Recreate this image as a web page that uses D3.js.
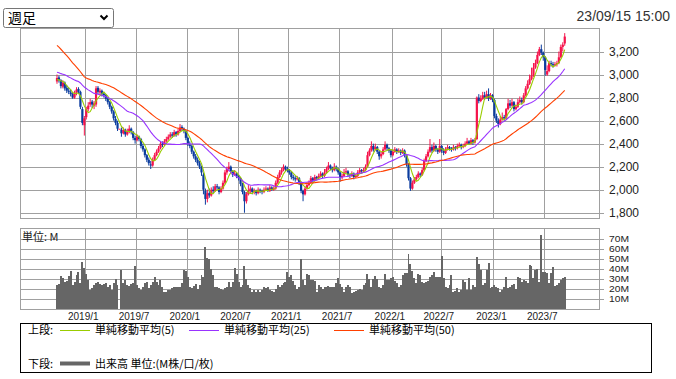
<!DOCTYPE html>
<html><head><meta charset="utf-8">
<script src="https://cdn.jsdelivr.net/npm/d3@7"></script>
<style>
body{margin:0;background:#fff;}
svg{display:block;}
</style></head>
<body>
<svg id="c" width="676" height="379"></svg>
<script>
// ---------------- DATA ----------------
const title = "週足";
const timestamp = "23/09/15 15:00";
const firstWeek = "2018-09-21";
const tickLabels = ["2019/1","2019/7","2020/1","2020/7","2021/1","2021/7","2022/1","2022/7","2023/1","2023/7"];
const priceTicks = [1800,2000,2200,2400,2600,2800,3000,3200];
const volTicks = [10,20,30,40,50,60,70];
// weekly closes before the first visible week (needed for the moving averages)
const priorCloses = [3750,3800,3850,3820,3780,3850,3900,3820,3760,3800,3850,3780,3700,3720,
 3200,3100,3050,3120,3080,3150,3070,3100,
 3080,3040,3010,3060,3100,3050,3020,3070,3090,3040,3060,3050,
 3050,3000,3030,3060,3020,3010,3040,3000,3020,
 2990,2970,2960,2950,2940,2960];
// weekly [open, high, low, close]
const ohlc = [
[2940,3000,2920,2970],[2975,2990,2930,2950],[2950,2960,2880,2900],[2895,2950,2880,2930],[2930,2940,2860,2880],
[2885,2910,2840,2860],[2860,2890,2830,2850],[2845,2870,2810,2830],[2830,2850,2790,2800],[2800,2860,2790,2840],
[2840,2890,2820,2870],[2875,2890,2830,2850],[2850,2860,2700,2720],[2700,2720,2560,2580],[2560,2640,2470,2620],
[2630,2720,2610,2700],[2700,2760,2680,2730],[2740,2790,2720,2760],[2765,2780,2710,2740],[2730,2770,2700,2750],
[2740,2900,2720,2880],[2885,2900,2830,2850],[2845,2880,2820,2860],[2860,2870,2810,2830],[2835,2850,2800,2820],
[2820,2830,2770,2790],[2790,2800,2740,2760],[2760,2770,2700,2720],[2720,2730,2660,2680],[2680,2690,2600,2620],
[2615,2640,2560,2580],[2580,2600,2510,2530],[2530,2530,2530,2530],[2520,2540,2460,2490],[2490,2540,2480,2520],
[2520,2530,2460,2480],[2480,2530,2470,2510],[2500,2560,2490,2530],[2530,2540,2480,2500],[2500,2510,2430,2450],
[2450,2470,2400,2430],[2430,2480,2420,2460],[2460,2470,2420,2440],[2440,2450,2360,2380],[2380,2400,2330,2350],
[2350,2360,2280,2300],[2300,2310,2240,2260],[2260,2280,2210,2230],[2220,2250,2180,2210],[2210,2280,2200,2260],
[2260,2320,2250,2300],[2300,2350,2290,2330],[2330,2380,2320,2360],[2360,2420,2350,2400],[2400,2420,2370,2390],
[2390,2440,2380,2420],[2420,2460,2410,2440],[2440,2480,2430,2460],[2460,2500,2450,2480],[2480,2500,2450,2470],
[2470,2520,2460,2500],[2500,2510,2460,2480],[2480,2530,2470,2510],[2510,2570,2500,2540],[2545,2560,2510,2530],
[2530,2540,2490,2510],[2510,2520,2430,2450],[2450,2460,2380,2400],[2390,2420,2360,2380],[2380,2390,2310,2330],
[2330,2340,2270,2290],[2290,2310,2240,2260],[2260,2280,2210,2230],[2230,2250,2180,2200],[2200,2210,2120,2150],
[2130,2150,1960,2000],[1990,2010,1870,1920],[1920,2000,1890,1970],[1970,2010,1930,1950],[1950,2020,1940,2000],
[2000,2030,1970,1990],[1990,2050,1980,2030],[2030,2050,2000,2020],[2020,2030,1960,1980],[1980,2030,1970,2010],
[2010,2080,2000,2060],[2060,2170,2050,2150],[2150,2200,2130,2180],[2180,2240,2160,2200],[2200,2210,2140,2160],
[2160,2170,2110,2130],[2130,2170,2120,2140],[2140,2150,2100,2120],[2120,2130,2080,2100],[2100,2110,2030,2050],
[2050,2060,1960,1980],[1980,1990,1800,1900],[1900,1980,1880,1960],[1960,2040,1950,1990],[1990,2030,1970,2010],
[2010,2020,1960,1980],[1980,2010,1960,1990],[1990,2000,1950,1970],[1970,2020,1960,2000],[2000,2010,1970,1990],
[1990,2000,1960,1980],[1980,2020,1970,2000],[2000,2030,1990,2010],[2010,2020,1980,1990],[1990,2040,1980,2020],
[2020,2030,1990,2000],[2000,2030,1990,2010],[2010,2080,2000,2060],[2060,2130,2050,2110],[2110,2170,2100,2150],
[2150,2190,2130,2170],[2170,2220,2160,2200],[2200,2210,2160,2180],[2180,2200,2150,2170],[2170,2180,2130,2150],
[2150,2160,2090,2110],[2110,2130,2080,2100],[2100,2120,2070,2090],[2090,2120,2080,2100],[2100,2110,2040,2060],
[2060,2070,1970,1990],[1990,2000,1900,1960],[1960,2030,1950,2010],[2010,2060,2000,2040],[2040,2080,2030,2060],
[2060,2120,2050,2100],[2100,2110,2060,2080],[2080,2130,2070,2110],[2110,2120,2080,2100],[2100,2140,2090,2120],
[2120,2160,2110,2140],[2140,2150,2100,2120],[2120,2180,2110,2150],[2150,2200,2140,2180],[2180,2240,2170,2210],
[2210,2220,2170,2190],[2190,2200,2150,2170],[2170,2230,2160,2200],[2200,2210,2160,2180],[2180,2190,2130,2150],
[2150,2160,2070,2110],[2110,2140,2090,2120],[2120,2180,2110,2150],[2150,2190,2140,2160],[2160,2170,2110,2130],
[2130,2140,2100,2120],[2120,2160,2110,2140],[2140,2150,2090,2110],[2110,2140,2100,2120],[2120,2170,2110,2150],
[2150,2190,2140,2170],[2170,2180,2140,2160],[2160,2190,2150,2170],[2170,2220,2160,2200],[2200,2330,2190,2300],
[2300,2360,2290,2340],[2340,2420,2330,2380],[2380,2400,2330,2350],[2350,2400,2340,2370],[2370,2380,2310,2330],
[2330,2340,2260,2290],[2290,2330,2270,2310],[2310,2370,2300,2350],[2350,2420,2340,2390],[2390,2400,2340,2360],
[2360,2370,2320,2340],[2340,2350,2280,2300],[2300,2350,2290,2330],[2330,2370,2320,2350],[2350,2360,2310,2330],
[2330,2360,2320,2340],[2340,2350,2300,2320],[2320,2360,2310,2340],[2340,2350,2280,2300],[2300,2310,2200,2220],
[2220,2230,2080,2100],[2100,2110,1990,2010],[2010,2080,2000,2060],[2060,2110,2050,2090],[2090,2130,2080,2110],
[2110,2160,2100,2140],[2140,2150,2110,2130],[2130,2190,2120,2170],[2170,2270,2160,2250],[2250,2310,2240,2290],
[2290,2350,2280,2330],[2330,2440,2320,2370],[2370,2390,2320,2340],[2340,2410,2330,2380],[2380,2390,2330,2350],
[2350,2360,2310,2330],[2330,2440,2320,2380],[2380,2390,2320,2340],[2340,2360,2300,2320],[2320,2370,2310,2350],
[2350,2390,2340,2370],[2370,2380,2340,2360],[2360,2370,2330,2350],[2350,2390,2340,2370],[2370,2380,2340,2360],
[2360,2400,2350,2380],[2380,2410,2370,2390],[2390,2400,2350,2370],[2370,2400,2360,2380],[2380,2420,2370,2400],
[2400,2450,2390,2420],[2420,2430,2390,2400],[2400,2450,2390,2430],[2430,2440,2390,2410],[2410,2450,2400,2430],
[2440,2810,2430,2800],[2800,2830,2750,2770],[2770,2820,2760,2790],[2790,2850,2780,2820],[2820,2850,2780,2800],
[2800,2860,2790,2830],[2830,2880,2770,2790],[2790,2840,2780,2820],[2820,2830,2760,2780],[2780,2790,2620,2640],
[2640,2660,2580,2600],[2600,2620,2540,2570],[2570,2640,2560,2610],[2610,2670,2600,2630],[2630,2650,2600,2620],
[2620,2710,2610,2700],[2700,2790,2690,2750],[2750,2780,2710,2730],[2730,2790,2720,2760],[2760,2770,2680,2700],
[2700,2740,2690,2720],[2720,2790,2710,2760],[2760,2810,2750,2780],[2780,2800,2740,2760],[2760,2840,2750,2820],
[2820,2900,2810,2880],[2880,2950,2870,2920],[2920,3000,2910,2960],[2960,3060,2950,2990],[2990,3100,2980,3060],
[3060,3130,3050,3100],[3100,3200,3090,3170],[3170,3240,3160,3220],[3220,3260,3170,3190],[3190,3200,3120,3150],
[3150,3160,2990,3040],[3000,3080,2990,3030],[3030,3120,3020,3100],[3100,3120,3070,3090],[3090,3110,3060,3080],
[3080,3110,3070,3090],[3090,3120,3070,3100],[3100,3200,3090,3150],[3150,3260,3140,3240],[3240,3280,3200,3260],
[3270,3360,3250,3330]
];
// weekly volume, millions
const volume = [
24,25,33,31,27,28,33,38,24,27,
34,37,26,47,41,35,29,19,21,24,
26,27,25,24,25,26,22,24,19,26,
30,24,0,39,26,29,24,23,25,26,
43,24,21,19,22,26,27,21,24,27,
32,27,24,29,22,17,17,19,19,21,
22,22,22,22,26,39,38,32,22,21,
23,25,20,24,34,32,62,51,50,40,
34,22,22,21,20,19,21,22,27,22,
27,41,35,27,22,24,43,30,24,21,
17,19,17,19,17,19,22,21,22,19,
18,17,20,24,22,24,26,27,37,32,
34,28,24,20,22,50,29,24,35,34,
29,29,28,17,24,22,20,22,22,23,
22,22,22,26,31,25,22,17,22,24,
22,16,17,18,19,20,19,24,26,35,
30,22,30,33,30,22,21,24,35,29,
29,31,32,28,26,22,24,34,36,36,
55,45,38,31,26,35,34,27,26,27,
28,32,34,37,32,32,32,53,31,22,
21,24,34,17,18,21,17,19,29,27,
19,31,19,24,22,52,45,39,24,26,
39,46,21,22,24,22,21,17,19,22,
32,21,22,24,25,20,32,31,27,29,
28,26,44,43,31,39,40,27,74,37,
37,36,26,36,42,23,24,26,29,31,
32];
const maPeriods = [5,25,50];
const maColors = ["#99cc00","#9933ff","#ff4000"];
const legendTop = ["単純移動平均(5)","単純移動平均(25)","単純移動平均(50)"];

// ---------------- CHART ----------------
const svg = d3.select("#c");
const parse = d3.timeParse("%Y-%m-%d");
const start = parse(firstWeek);
const dates = ohlc.map((_, i) => d3.timeDay.offset(start, 7 * i));
const closes = ohlc.map(d => d[3]);
const all = priorCloses.concat(closes);

const x = d3.scaleTime().domain([parse("2018-05-15"), parse("2024-01-23")]).range([20, 600]);
const y = d3.scaleLinear().domain([1750, 3400]).range([218.5, 28.5]);
const yv = d3.scaleLinear().domain([0, 81]).range([309, 228]);
const cr = v => Math.round(v) + 0.5;
const gridC = "#a0a0a0";
const fontLat = "'Liberation Sans', Arial, sans-serif";
const fontJP = "'Noto Sans CJK JP', sans-serif";

// dropdown
svg.append("rect").attr("x", 3.5).attr("y", 8.5).attr("width", 110).attr("height", 19)
  .attr("rx", 2).attr("fill", "#fff").attr("stroke", "#767676");
svg.append("text").attr("x", 8).attr("y", 23).attr("font-family", fontJP).attr("font-size", 14)
  .attr("fill", "#000").text(title);
svg.append("path").attr("d", "M100.5,15.5 L104,19 L107.5,15.5").attr("fill", "none")
  .attr("stroke", "#000").attr("stroke-width", 2);
svg.append("text").attr("x", 670).attr("y", 21).attr("text-anchor", "end")
  .attr("font-family", fontLat).attr("font-size", 14).attr("fill", "#333").text(timestamp);

// month gridlines
const tickDates = tickLabels.map(l => {
  const [yy, mm] = l.split("/").map(Number);
  return dates.find(d => d.getFullYear() === yy && d.getMonth() === mm - 1);
});
const g = svg.append("g").attr("shape-rendering", "crispEdges");
tickDates.forEach(d => {
  const xx = cr(x(d));
  g.append("line").attr("x1", xx).attr("x2", xx).attr("y1", 29).attr("y2", 218).attr("stroke", gridC);
  g.append("line").attr("x1", xx).attr("x2", xx).attr("y1", 229).attr("y2", 309).attr("stroke", gridC);
});
// price gridlines
priceTicks.forEach(p => {
  const yy = cr(y(p));
  g.append("line").attr("x1", 20).attr("x2", 604).attr("y1", yy).attr("y2", yy).attr("stroke", gridC);
  svg.append("text").attr("x", 609).attr("y", y(p)).attr("dy", "0.35em")
    .attr("font-family", fontLat).attr("font-size", 12).attr("fill", "#222").text(d3.format(",")(p));
});
// volume gridlines
volTicks.forEach(v => {
  const yy = cr(yv(v));
  g.append("line").attr("x1", 20).attr("x2", 604).attr("y1", yy).attr("y2", yy).attr("stroke", gridC);
  svg.append("text").attr("x", 609).attr("y", yv(v)).attr("dy", "0.36em")
    .attr("font-family", fontLat).attr("font-size", 8.8).attr("textLength", 20)
    .attr("lengthAdjust", "spacingAndGlyphs").attr("fill", "#222").text(v + "M");
});
// frames
g.append("rect").attr("x", 20.5).attr("y", 28.5).attr("width", 579).attr("height", 189.5)
  .attr("fill", "none").attr("stroke", gridC);
g.append("rect").attr("x", 20.5).attr("y", 228.5).attr("width", 579).attr("height", 80.5)
  .attr("fill", "none").attr("stroke", gridC);

// volume bars
svg.append("g").attr("shape-rendering", "crispEdges").selectAll("rect").data(volume).join("rect")
  .attr("x", (v, i) => x(dates[i]))
  .attr("width", (v, i) => x(d3.timeDay.offset(dates[i], 7)) - x(dates[i]))
  .attr("y", v => yv(v)).attr("height", v => 309 - yv(v))
  .attr("fill", "#666");

svg.append("text").attr("x", 22).attr("y", 240.5).attr("font-family", fontJP).attr("font-size", 11)
  .attr("fill", "#222").text("単位: M");

// candles
const cg = svg.append("g");
ohlc.forEach((d, i) => {
  const [o, h, l, c] = d;
  const cx = x(dates[i]) + 1;
  const col = c >= o ? "#f5134b" : "#0b3c9e";
  cg.append("line").attr("x1", cx).attr("x2", cx).attr("y1", y(h)).attr("y2", y(l))
    .attr("stroke", col).attr("stroke-width", 1);
  const top = y(Math.max(o, c)), bot = y(Math.min(o, c));
  cg.append("rect").attr("x", cx - 1.1).attr("width", 2.2).attr("y", top)
    .attr("height", Math.max(1, bot - top)).attr("fill", col);
});

// moving averages
maPeriods.forEach((n, k) => {
  const off = priorCloses.length;
  const pts = closes.map((_, i) => {
    const j = i + off;
    return [x(dates[i]) + 1, y(d3.mean(all.slice(j - n + 1, j + 1)))];
  });
  svg.append("path").attr("d", d3.line()(pts)).attr("fill", "none")
    .attr("stroke", maColors[k]).attr("stroke-width", 1.1);
});

// x labels
tickDates.forEach((d, i) => {
  svg.append("text").attr("x", x(d) - 2).attr("y", 320).attr("text-anchor", "middle")
    .attr("font-family", fontLat).attr("font-size", 10).attr("fill", "#222").text(tickLabels[i]);
});

// legend
svg.append("rect").attr("x", 20.5).attr("y", 323.5).attr("width", 631).attr("height", 49)
  .attr("fill", "none").attr("stroke", "#000").attr("shape-rendering", "crispEdges");
svg.append("text").attr("x", 28).attr("y", 334).attr("font-family", fontJP).attr("font-size", 11)
  .attr("fill", "#000").text("上段:");
const legX = [[60, 95], [189, 224], [334, 369]];
legX.forEach((p, k) => {
  svg.append("line").attr("x1", p[0]).attr("x2", p[0] + 30).attr("y1", 330.5).attr("y2", 330.5)
    .attr("stroke", maColors[k]).attr("stroke-width", 1);
  svg.append("text").attr("x", p[1]).attr("y", 334).attr("font-family", fontJP).attr("font-size", 11)
    .attr("fill", "#000").text(legendTop[k]);
});
svg.append("text").attr("x", 28).attr("y", 367.5).attr("font-family", fontJP).attr("font-size", 11)
  .attr("fill", "#000").text("下段:");
svg.append("line").attr("x1", 60).attr("x2", 90).attr("y1", 363.5).attr("y2", 363.5)
  .attr("stroke", "#666").attr("stroke-width", 4);
svg.append("text").attr("x", 95).attr("y", 367.5).attr("font-family", fontJP).attr("font-size", 11)
  .attr("fill", "#000").text("出来高 単位:(M株/口/枚)");
</script>
</body></html>
